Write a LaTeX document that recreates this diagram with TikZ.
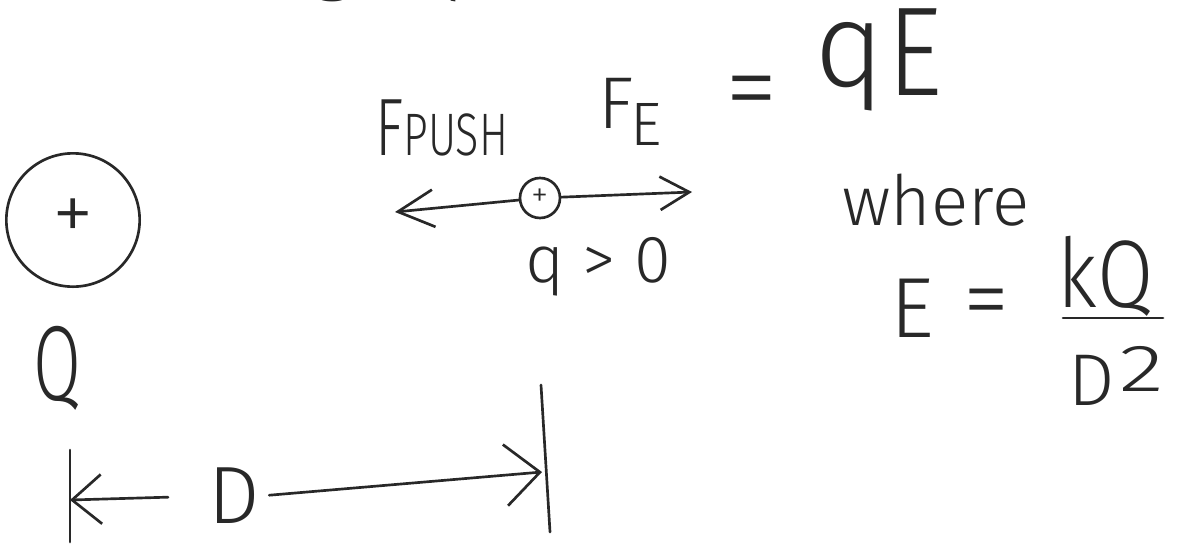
\documentclass[tikz,border=0pt]{standalone}
\usepackage{fontspec}
\setmainfont{Fira Sans}[UprightFont={* Light}]
\usepackage{xcolor}
\usepackage{graphicx}
\usepackage{tikz}
\usetikzlibrary{arrows.meta, positioning, calc}
\definecolor{myink}{RGB}{40,40,40}
\definecolor{mypaper}{RGB}{255,255,255}
\newcommand{\hwsize}[1]{\fontsize{#1}{#1}\selectfont}
\tikzset{
  pen/.style={draw=myink, line width=2pt, line cap=round},
  hw/.style={inner sep=0pt, text=myink},
  barb/.style 2 args={pen, -{Straight Barb[length=#1, width=#2, line width=2pt]}}
}

\begin{document}
\begin{tikzpicture}[x=0.75pt, y=-0.75pt, charge/.style={circle, pen, inner sep=0pt, text=myink}]
  \path[fill=mypaper, use as bounding box] (0,0) rectangle (1185,544);

  \node [hw, anchor=base west, font=\hwsize{60pt}] (topline) at (157,-15) {charge q};

  \node [charge, minimum size=100pt, font=\hwsize{63pt}] (bq) at (73,220) {+};
  \node [hw, anchor=base, font=\hwsize{80pt}] (bqlab) at (57,400) {\scalebox{0.65}[1]{Q}};

  \node [hw, anchor=base west, font=\hwsize{61pt}] (fp) at (375,155) {\scalebox{0.72}[1]{F{\hwsize{45pt}PUSH}}};
  \node [hw, anchor=base west, font=\hwsize{55pt}] (fe) at (598,128) {F\hspace{-2pt}\raisebox{-13pt}{\hwsize{46pt}E}};
  \node [hw, font=\hwsize{80pt}] (eqa) at (752,100) {=};
  \node [hw, anchor=base west, font=\hwsize{90pt}] (qa) at (814,86) {q};
  \node [hw, anchor=base west, font=\hwsize{95pt}] (ea) at (887,95) {\scalebox{0.85}[1]{E}};

  \node [charge, minimum size=30pt, font=\hwsize{26pt}] (sq) at (540,198) {+};
  \coordinate (pushtip) at (395,212);
  \coordinate (fetip) at (692,192);
  \node [hw, anchor=base west, font=\hwsize{50pt}] (qpos) at (525,282) {q > 0};

  \node [hw, anchor=base west, font=\hwsize{52pt}] (wh) at (842,225) {where};
  \node [hw, anchor=base west, font=\hwsize{64pt}] (eb) at (890,337) {E};
  \node [hw, font=\hwsize{70pt}] (eqb) at (986,310) {=};
  \node [hw, anchor=base west, font=\hwsize{72pt}] (kq) at (1057,307) {\scalebox{0.85}[1]{kQ}};
  \coordinate (barl) at (1063,318);
  \coordinate (barr) at (1163,318);
  \node [hw, anchor=base west, font=\hwsize{55pt}] (dsq) at (1068,405) {D\hspace{4pt}\raisebox{10pt}{\hwsize{50pt}\scalebox{1.4}[1]{2}}};

  \coordinate (lbt) at (70,450);
  \coordinate (lbb) at (70,542);
  \coordinate (ltip) at (70,500);
  \coordinate (rbt) at (541,385);
  \coordinate (rbb) at (550,532);
  \coordinate (rtip) at (542,472);
  \node [hw, font=\hwsize{61pt}] (dl) at (234,496) {D};

  \draw [barb={27pt}{28pt}] (sq) -- (pushtip);
  \draw [barb={22pt}{25pt}] (sq) -- (fetip);
  \draw [pen] (barl) -- (barr);
  \draw [pen] (lbt) -- (lbb);
  \draw [pen] (rbt) -- (rbb);
  \draw [barb={22pt}{37pt}, shorten <=30pt] (dl.west) -- (ltip);
  \draw [barb={26pt}{46pt}, shorten <=7pt] (dl.east) -- (rtip);
\end{tikzpicture}
\end{document}
